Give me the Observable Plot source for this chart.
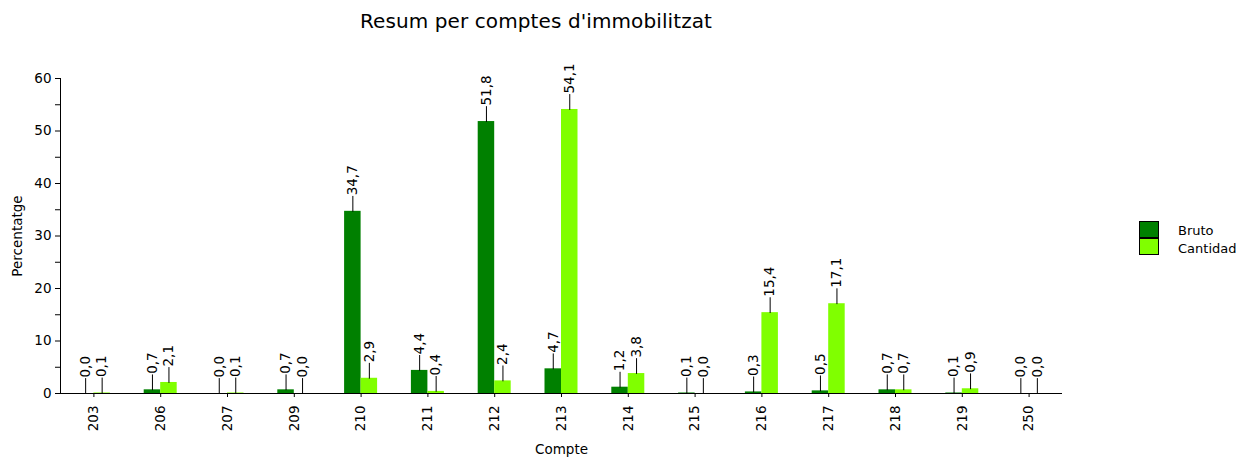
<!DOCTYPE html>
<html>
<head>
<meta charset="utf-8">
<script src="https://cdn.jsdelivr.net/npm/d3@7"></script>
<script src="https://cdn.jsdelivr.net/npm/@observablehq/plot@0.6"></script>
<style>
  body { margin: 0; background: #fff; font-family: "DejaVu Sans", sans-serif; color: #000; }
  #wrap { position: relative; width: 1247px; height: 459px; overflow: hidden; }
  #title { position: relative; height: 44px; }
  #title span { position: absolute; left: 0; width: 1072px; top: 11px; text-align: center; font-size: 20px; line-height: 20px; letter-spacing: 0.1px; }
  .sw { position: absolute; left: 1139px; width: 18px; height: 15px; border: 1px solid #000; }
  .lt { position: absolute; left: 1178px; font-size: 13px; line-height: 13px; }
</style>
</head>
<body>
<div id="wrap">
  <div id="title"><span>Resum per comptes d'immobilitzat</span></div>
  <div id="chart"></div>
  <div id="legend"></div>
</div>
<script>
// ---- data ----
const categories = ["203","206","207","209","210","211","212","213","214","215","216","217","218","219","250"];
const bruto      = [0.0, 0.7, 0.0, 0.7, 34.7, 4.4, 51.8, 4.7, 1.2, 0.1, 0.3, 0.5, 0.7, 0.1, 0.0];
const cantidad   = [0.1, 2.1, 0.1, 0.0, 2.9, 0.4, 2.4, 54.1, 3.8, 0.0, 15.4, 17.1, 0.7, 0.9, 0.0];
const seriesNames = ["Bruto", "Cantidad"];
const seriesColors = ["#008000", "#80ff00"];
const yTicks = [0, 5, 10, 15, 20, 25, 30, 35, 40, 45, 50, 55, 60];

// ---- table ----
const rows = categories.flatMap((c, i) => [
  {compte: c, serie: seriesNames[0], value: bruto[i]},
  {compte: c, serie: seriesNames[1], value: cantidad[i]}
]);
const rowsB = rows.filter(d => d.serie === seriesNames[0]);
const rowsC = rows.filter(d => d.serie === seriesNames[1]);
const fmt = v => v.toFixed(1).replace(".", ",");
const stem = {draw(context, l) { context.moveTo(0, 0); context.lineTo(0, -l); }};

const W = 1247, H = 415;
const mL = 60, mR = 185, mT = 34, mB = 66;
const band = (W - mL - mR) / categories.length;
const half = band / 2;
const barW = 16.5;
const off = barW / 2;

const chart = Plot.plot({
  width: W, height: H,
  marginLeft: mL, marginRight: mR, marginTop: mT, marginBottom: mB,
  style: {fontFamily: "DejaVu Sans, sans-serif", fontSize: "13px", color: "#000", background: "#fff", overflow: "visible"},
  x: {domain: categories, padding: 0, round: false, label: "Compte"},
  y: {domain: [0, 60], label: "Percentatge"},
  color: {domain: seriesNames, range: seriesColors},
  marks: [
    Plot.barY(rowsB, {x: "compte", y: "value", fill: "serie", insetLeft: half - barW, insetRight: half}),
    Plot.barY(rowsC, {x: "compte", y: "value", fill: "serie", insetLeft: half, insetRight: half - barW}),
    Plot.vector(rowsB, {x: "compte", y: "value", length: 15, rotate: 0, anchor: "start", shape: stem, stroke: "#000", strokeWidth: 1, dx: -off}),
    Plot.vector(rowsC, {x: "compte", y: "value", length: 15, rotate: 0, anchor: "start", shape: stem, stroke: "#000", strokeWidth: 1, dx: off}),
    Plot.text(rowsB, {x: "compte", y: "value", text: d => fmt(d.value), rotate: -90, textAnchor: "start", lineAnchor: "middle", dx: -off, dy: -16, fontSize: 13.5, fill: "#000"}),
    Plot.text(rowsC, {x: "compte", y: "value", text: d => fmt(d.value), rotate: -90, textAnchor: "start", lineAnchor: "middle", dx: off, dy: -16, fontSize: 13.5, fill: "#000"}),
    Plot.axisY({ticks: yTicks, tickFormat: d => d % 10 === 0 ? String(d) : "", tickSize: 5, tickPadding: 4, fontSize: 13.5,
      label: "Percentatge", labelAnchor: "center", labelArrow: "none", labelOffset: 48}),
    Plot.axisX({tickSize: 4, tickPadding: 8, tickRotate: -90, fontSize: 13.5,
      label: "Compte", labelAnchor: "center", labelArrow: "none", labelOffset: 60}),
    Plot.ruleY([0], {stroke: "#000"}),
    Plot.frame({anchor: "left", stroke: "#000"})
  ]
});
document.getElementById("chart").appendChild(chart);

// ---- legend ----
const leg = document.getElementById("legend");
seriesNames.forEach((name, i) => {
  const sw = document.createElement("div");
  sw.className = "sw";
  sw.style.top = (221 + i * 17) + "px";
  sw.style.background = seriesColors[i];
  leg.appendChild(sw);
  const t = document.createElement("div");
  t.className = "lt";
  t.style.top = (224 + i * 18) + "px";
  t.textContent = name;
  leg.appendChild(t);
});
</script>
</body>
</html>
